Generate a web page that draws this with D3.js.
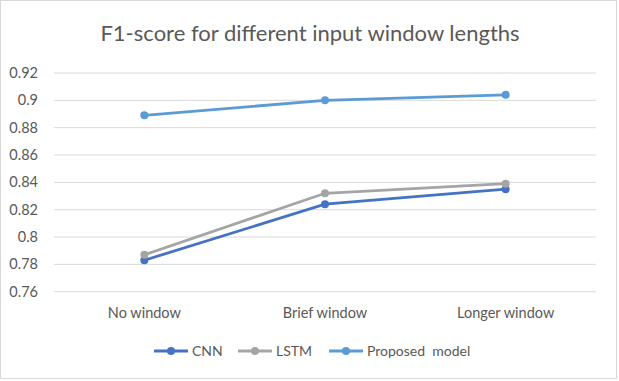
<!DOCTYPE html>
<html lang="en">
<head>
<meta charset="UTF-8">
<title>F1-score</title>
<script src="https://cdn.jsdelivr.net/npm/d3@7"></script>
<style>
  body { margin: 0; background: #fff; }
  text { font-family: Lato, "Open Sans", sans-serif; fill: #595959; }
</style>
</head>
<body>
<script>
// data
var categories = ["No window", "Brief window", "Longer window"];
var seriesNames = ["CNN", "LSTM", "Proposed  model"];
var cnnValues = [0.783, 0.824, 0.835];
var lstmValues = [0.787, 0.832, 0.839];
var proposedValues = [0.889, 0.900, 0.904];
var yTicks = [0.76, 0.78, 0.8, 0.82, 0.84, 0.86, 0.88, 0.9, 0.92];
var colors = ["#4472C4", "#A5A5A5", "#5B9BD5"];

var width = 619, height = 381;
var svg = d3.select("body").append("svg")
    .attr("width", width)
    .attr("height", height);

// chart border
svg.append("rect")
    .attr("x", 0.5).attr("y", 0.5)
    .attr("width", width - 3).attr("height", height - 3)
    .attr("fill", "#fff")
    .attr("stroke", "#d9d9d9");

// plot area
var plotL = 54, plotR = 596, plotT = 73, plotB = 291.7;

var x = d3.scalePoint()
    .domain(categories)
    .range([plotL, plotR])
    .padding(0.5);

var y = d3.scaleLinear()
    .domain([0.76, 0.92])
    .range([plotB, plotT]);

// title
svg.append("text")
    .attr("x", 310).attr("y", 41)
    .attr("text-anchor", "middle")
    .style("font-size", "22px")
    .text("F1-score for different input window lengths");

// gridlines
svg.append("g").selectAll("line")
    .data(yTicks)
    .enter().append("line")
    .attr("x1", plotL).attr("x2", plotR)
    .attr("y1", function (d) { return y(d); })
    .attr("y2", function (d) { return y(d); })
    .attr("stroke", "#d9d9d9")
    .attr("stroke-width", 1);

// y labels
svg.append("g").selectAll("text")
    .data(yTicks)
    .enter().append("text")
    .attr("x", 38)
    .attr("y", function (d) { return y(d) + 5; })
    .attr("text-anchor", "end")
    .style("font-size", "14.5px")
    .text(function (d) { return +d.toFixed(2); });

// x labels
svg.append("g").selectAll("text")
    .data(categories)
    .enter().append("text")
    .attr("x", function (d) { return x(d); })
    .attr("y", 318)
    .attr("text-anchor", "middle")
    .style("font-size", "14.5px")
    .text(function (d) { return d; });

// lines, Excel order: CNN, LSTM, Proposed
var allSeries = [cnnValues, lstmValues, proposedValues];
var line = d3.line()
    .x(function (d, i) { return x(categories[i]); })
    .y(function (d) { return y(d); });

allSeries.forEach(function (vals, s) {
    svg.append("path")
        .datum(vals)
        .attr("d", line)
        .attr("fill", "none")
        .attr("stroke", colors[s])
        .attr("stroke-width", 2.8)
        .attr("stroke-linecap", "round");
    svg.append("g").selectAll("circle")
        .data(vals)
        .enter().append("circle")
        .attr("cx", function (d, i) { return x(categories[i]); })
        .attr("cy", function (d) { return y(d); })
        .attr("r", 4)
        .attr("fill", colors[s]);
});

// legend
var legendX = [154, 238, 329];
var legend = svg.append("g").selectAll("g")
    .data(seriesNames)
    .enter().append("g")
    .attr("transform", function (d, i) { return "translate(" + legendX[i] + ",351)"; });
legend.append("line")
    .attr("x1", 0).attr("x2", 34)
    .attr("stroke", function (d, i) { return colors[i]; })
    .attr("stroke-width", 2.8);
legend.append("circle")
    .attr("cx", 17).attr("r", 4)
    .attr("fill", function (d, i) { return colors[i]; });
legend.append("text")
    .attr("x", 38).attr("y", 5)
    .style("font-size", "14px")
    .style("white-space", "pre")
    .text(function (d) { return d; });
</script>
</body>
</html>
